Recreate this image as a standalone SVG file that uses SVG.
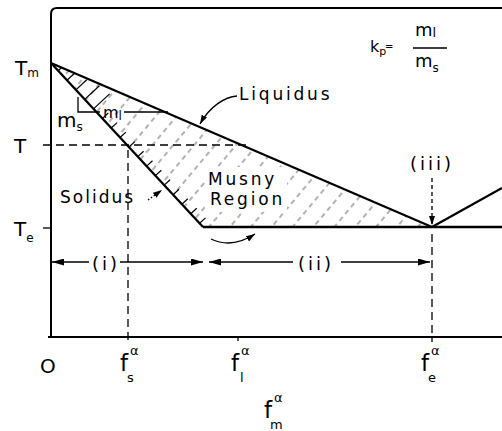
<svg xmlns="http://www.w3.org/2000/svg" width="502" height="431" viewBox="0 0 502 431">
<style>
text{font-family:"DejaVu Sans","Liberation Sans",sans-serif;fill:#000}
.lbl{font-size:17px;letter-spacing:2.8px}
.par{font-size:18px;letter-spacing:3px}
.ax{stroke:#000;stroke-width:2;fill:none}
.cur{stroke:#000;stroke-width:2.3;fill:none}
.dash{stroke:#000;stroke-width:1.3;fill:none;stroke-dasharray:8 5}
.thin{stroke:#000;stroke-width:1.3;fill:none}
.tick{stroke:#000;stroke-width:1.3}
.f{font-size:23px}
.sup{font-size:13px}
</style>
<defs>
<marker id="ah" viewBox="0 0 12 7" refX="12" refY="3.5" markerWidth="12" markerHeight="7" orient="auto" markerUnits="userSpaceOnUse"><path d="M0,0 L12,3.5 L0,7 Z" fill="#000"/></marker>
<marker id="ahs" viewBox="0 0 9 6" refX="9" refY="3" markerWidth="9" markerHeight="6" orient="auto" markerUnits="userSpaceOnUse"><path d="M0,0 L9,3 L0,6 Z" fill="#000"/></marker>
<pattern id="hatch" width="16" height="18" patternUnits="userSpaceOnUse" patternTransform="rotate(40)">
<line x1="2" y1="0" x2="2" y2="18" stroke="#555" stroke-width="0.9" stroke-dasharray="5 4"/>
</pattern>
<clipPath id="mush"><polygon points="51,63 432,227 203,227"/></clipPath>
</defs>

<g id="axes">
<path class="ax" d="M51,338 L51,14 Q51,8 57,8 L502,8"/>
<line class="ax" x1="48" y1="337" x2="502" y2="337"/>
<line class="tick" x1="43" y1="228" x2="51" y2="228"/>
<line class="tick" x1="238" y1="337" x2="238" y2="341"/>
</g>

<g id="mushy-region">
<polygon points="51,63 432,227 203,227" fill="url(#hatch)"/>
<g clip-path="url(#mush)" stroke="#000" stroke-width="1.2">
<line x1="58.2" y1="70.8" x2="62" y2="67.3"/>
<line x1="67.0" y1="80.3" x2="74.3" y2="73.5"/>
<line x1="75.8" y1="89.9" x2="86.8" y2="79.7"/>
<line x1="84.7" y1="99.4" x2="99.4" y2="85.8"/>
<line x1="93.5" y1="108.9" x2="109.6" y2="93.9"/>
<line x1="102.4" y1="118.4" x2="108.3" y2="113.0"/>
<line x1="111.2" y1="128.0" x2="117.1" y2="122.6"/>
<line x1="120.0" y1="137.5" x2="125.9" y2="132.1"/>
<line x1="128.9" y1="147.0" x2="134.8" y2="141.6"/>
<line x1="137.7" y1="156.6" x2="143.6" y2="151.2"/>
<line x1="146.6" y1="166.1" x2="152.5" y2="160.7"/>
<line x1="155.4" y1="175.6" x2="161.3" y2="170.2"/>
<line x1="164.2" y1="185.1" x2="170.1" y2="179.7"/>
<line x1="173.1" y1="194.7" x2="179.0" y2="189.3"/>
<line x1="181.9" y1="204.2" x2="187.8" y2="198.8"/>
<line x1="190.8" y1="213.7" x2="196.7" y2="208.3"/>
<line x1="199.6" y1="223.3" x2="205.5" y2="217.9"/>
</g>
<rect x="205" y="167" width="82" height="45" fill="#fff"/>
</g>

<g id="curves">
<line class="cur" x1="51" y1="63" x2="432" y2="227"/>
<line class="cur" x1="51" y1="63" x2="203" y2="227"/>
<line class="cur" x1="203" y1="227" x2="502" y2="227"/>
<line class="cur" x1="432" y1="227" x2="502" y2="188"/>
</g>

<g id="slope-marks">
<path class="thin" d="M78,97 L78,112 L100,112"/>
<line class="thin" x1="124" y1="112" x2="168" y2="112"/>
</g>

<g id="guides">
<line class="dash" x1="43" y1="145" x2="246" y2="145"/>
<line class="dash" x1="128" y1="150" x2="128" y2="342"/>
<line class="dash" x1="432" y1="234" x2="432" y2="342"/>
</g>

<g id="connectors">
<path class="thin" d="M237,96 C225,97 210,106 200,124" marker-end="url(#ahs)"/>
<path class="thin" d="M148,200 L162,190" stroke-dasharray="1.5 2" marker-end="url(#ahs)"/>
<path class="thin" d="M211,239 Q232,249 255,234" marker-end="url(#ahs)"/>
<line class="thin" x1="432" y1="178" x2="432" y2="225" stroke-dasharray="4 3" marker-end="url(#ahs)"/>
<line class="thin" x1="89" y1="262" x2="52" y2="262" marker-end="url(#ah)"/>
<line class="thin" x1="120" y1="262" x2="203" y2="262" marker-end="url(#ah)"/>
<line class="thin" x1="293" y1="262" x2="209" y2="262" marker-end="url(#ah)"/>
<line class="thin" x1="341" y1="262" x2="430" y2="262" marker-end="url(#ah)"/>
</g>

<g id="labels">
<text x="15" y="75" font-size="20">T<tspan font-size="12" dy="2">m</tspan></text>
<text x="14" y="153" font-size="20">T</text>
<text x="14" y="236" font-size="20">T<tspan font-size="12" dy="6">e</tspan></text>
<text x="40" y="373" font-size="20">O</text>
<text x="57" y="127" font-size="20">m<tspan font-size="12" dy="4">s</tspan></text>
<text x="103" y="118" font-size="16">m<tspan font-size="12" dy="2">l</tspan></text>
<text class="lbl" x="239" y="100">Liquidus</text>
<text class="lbl" x="60" y="203" style="letter-spacing:2px">Solidus</text>
<text class="lbl" x="208" y="185">Musny</text>
<text class="lbl" x="210" y="205">Region</text>
<text class="par" x="92" y="270">(i)</text>
<text class="par" x="298" y="270">(ii)</text>
<text class="par" x="410" y="170">(iii)</text>
<text class="f" x="120" y="371">f</text><text class="sup" x="130" y="355">α</text><text class="sup" x="127" y="382">s</text>
<text class="f" x="231" y="371">f</text><text class="sup" x="241" y="355">α</text><text class="sup" x="240" y="382">l</text>
<text class="f" x="421" y="371">f</text><text class="sup" x="431" y="355">α</text><text class="sup" x="428" y="382">e</text>
<text class="f" x="264" y="418">f</text><text class="sup" x="274" y="402">α</text><text class="sup" x="270" y="429">m</text>
<text x="370" y="52" font-size="16">k<tspan font-size="11" dy="3">p</tspan></text>
<text x="385" y="50" font-size="10">=</text>
<line class="thin" x1="413" y1="48" x2="447" y2="48"/>
<text x="415" y="36" font-size="18">m<tspan font-size="13" dy="1">l</tspan></text>
<text x="415" y="67" font-size="18">m<tspan font-size="12" dy="5">s</tspan></text>
</g>
</svg>
